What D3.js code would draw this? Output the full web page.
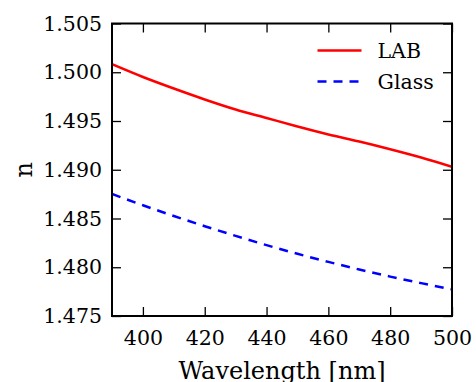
<!DOCTYPE html>
<html><head><meta charset="utf-8">
<script src="https://cdn.jsdelivr.net/npm/d3@7"></script>
<style>body{margin:0;background:#fff}svg{display:block}</style>
</head><body>
<svg id="c" width="476" height="382"></svg>
<script>
const wavelengths = [390,400,410,420,430,440,450,460,470,480,490,500];
const labValues   = [1.50082,1.49951,1.49833,1.49721,1.49618,1.49531,1.49444,1.49362,1.49290,1.49211,1.49126,1.49031];
const glassValues = [1.48751,1.48636,1.48526,1.48421,1.48322,1.48227,1.48138,1.48055,1.47977,1.47904,1.47837,1.47774];
const xTicks = [400,420,440,460,480,500];
const yTicks = [1.475,1.480,1.485,1.490,1.495,1.500,1.505];
const seriesNames = ["LAB","Glass"];

const svg = d3.select("#c");
const L=112,R=452,T=23.5,B=316;
const x = d3.scaleLinear().domain([390,500]).range([L,R]);
const y = d3.scaleLinear().domain([1.475,1.505]).range([B,T]);
const font = "DejaVu Serif";
const fs = 20.5;
const tl = 9;

const g = svg.append("g");
g.append("defs").append("clipPath").attr("id","clip").append("rect")
  .attr("x",L).attr("y",T).attr("width",R-L).attr("height",B-T);

const series = [
  {name:seriesNames[0], vals:labValues, color:"#ff0000", dash:null},
  {name:seriesNames[1], vals:glassValues, color:"#0000ff", dash:"9,7"}
];
series.forEach(s=>{
  g.append("path").datum(wavelengths.map((w,i)=>[w,s.vals[i]]))
    .attr("d", d3.line().x(d=>x(d[0])).y(d=>y(d[1])).curve(d3.curveMonotoneX))
    .attr("fill","none").attr("stroke",s.color).attr("stroke-width",2.5)
    .attr("stroke-dasharray",s.dash).attr("clip-path","url(#clip)");
});

const axB = d3.axisBottom(x).tickValues(xTicks).tickSizeInner(-tl).tickSizeOuter(0).tickPadding(tl+5).tickFormat(d3.format("d"));
const axT = d3.axisTop(x).tickValues(xTicks).tickSizeInner(-tl).tickSizeOuter(0).tickFormat("");
const axL = d3.axisLeft(y).tickValues(yTicks).tickSizeInner(-tl).tickSizeOuter(0).tickPadding(tl+1).tickFormat(d3.format(".3f"));
const axR = d3.axisRight(y).tickValues(yTicks).tickSizeInner(-tl).tickSizeOuter(0).tickFormat("");

function style(sel){
  sel.select(".domain").remove();
  sel.selectAll(".tick line").attr("stroke","#000").attr("stroke-width",1.3);
  sel.selectAll(".tick text").attr("font-family",font).attr("font-size",fs).attr("fill","#000");
}
svg.append("g").attr("transform",`translate(0,${B})`).call(axB).call(style);
svg.append("g").attr("transform",`translate(0,${T})`).call(axT).call(style);
svg.append("g").attr("transform",`translate(${L},0)`).call(axL).call(style);
svg.append("g").attr("transform",`translate(${R},0)`).call(axR).call(style);

svg.append("rect").attr("x",L).attr("y",T).attr("width",R-L).attr("height",B-T)
  .attr("fill","none").attr("stroke","#000").attr("stroke-width",2);

svg.append("text").attr("x",(L+R)/2).attr("y",379).attr("text-anchor","middle")
  .attr("font-family",font).attr("font-size",24).text("Wavelength [nm]");
svg.append("text").attr("transform",`translate(32,${(T+B)/2}) rotate(-90)`).attr("text-anchor","middle")
  .attr("font-family",font).attr("font-size",24).text("n");

series.forEach((s,i)=>{
  const ly = 50.5 + i*31;
  svg.append("line").attr("x1",317.5).attr("x2",361.5).attr("y1",ly).attr("y2",ly)
    .attr("stroke",s.color).attr("stroke-width",2.5).attr("stroke-dasharray",s.dash);
  svg.append("text").attr("x",377.5).attr("y",ly).attr("dy","0.35em")
    .attr("font-family",font).attr("font-size",fs).text(s.name);
});
</script>
</body></html>
